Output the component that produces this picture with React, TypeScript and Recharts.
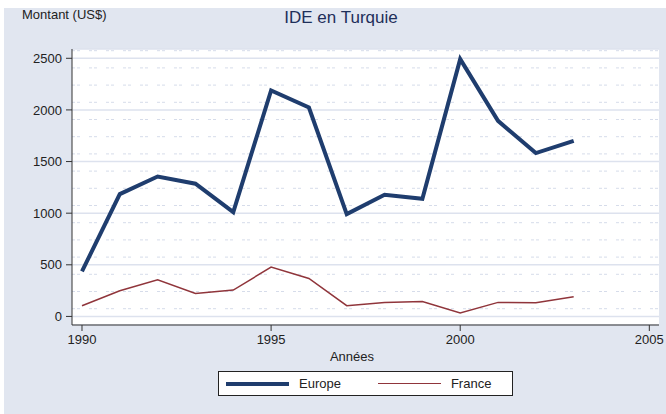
import { LineChart, Line, XAxis, YAxis, CartesianGrid } from 'recharts'

const years = [1990, 1991, 1992, 1993, 1994, 1995, 1996, 1997, 1998, 1999, 2000, 2001, 2002, 2003]
const europe = [436, 1185, 1355, 1285, 1010, 2188, 2023, 991, 1178, 1139, 2492, 1894, 1582, 1701]
const france = [104, 249, 355, 223, 255, 478, 368, 104, 136, 145, 33, 136, 133, 191]

const xTicks = [1990, 1995, 2000, 2005]
const yTicks = [0, 500, 1000, 1500, 2000, 2500]

const series = [
  { key: 'europe', name: 'Europe', color: '#1f3d6e', width: 4 },
  { key: 'france', name: 'France', color: '#90353b', width: 1.5 },
]

const data = years.map((y, i) => ({ year: y, europe: europe[i], france: france[i] }))

const FONT = '"Liberation Sans", Arial, Helvetica, sans-serif'
const BG = '#e1e6f0'

// faint dotted texture lines in the plot region, one every ~17px
const texture = ({ offset }: any) => {
  const out: number[] = []
  for (let y = offset.top + 1.7; y < offset.top + offset.height; y += 17.2) out.push(y)
  return out
}

export default function App() {
  return (
    <div
      style={{
        position: 'absolute',
        left: 4,
        top: 8,
        width: 662,
        height: 406,
        background: BG,
        fontFamily: FONT,
        color: '#222',
      }}
    >
      <div style={{ position: 'absolute', left: 18, top: -1, fontSize: 13 }}>Montant (US$)</div>
      <div
        style={{
          position: 'absolute',
          left: 137,
          width: 400,
          top: 0,
          textAlign: 'center',
          fontSize: 17,
          color: '#1e2f5a',
        }}
      >
        IDE en Turquie
      </div>

      <LineChart
        width={662}
        height={406}
        data={data}
        margin={{ top: 41, right: 7, left: 8, bottom: 59 }}
        style={{ position: 'absolute', left: 0, top: 0 }}
      >
        <CartesianGrid vertical={false} fill="#ffffff" stroke="none" horizontal={false} />
        <CartesianGrid
          vertical={false}
          horizontalCoordinatesGenerator={texture}
          stroke="#d6dcea"
          strokeDasharray="3 2 3 9"
        />
        <CartesianGrid vertical={false} stroke="#dde2ee" strokeWidth={1.5} />
        <XAxis
          dataKey="year"
          type="number"
          domain={[1989.736, 2005.256]}
          ticks={xTicks}
          allowDataOverflow
          height={30}
          stroke="#333"
          tickSize={6}
          tickMargin={4}
          tick={{ fill: '#222', fontSize: 13, fontFamily: FONT }}
        />
        <YAxis
          type="number"
          domain={[-83, 2590]}
          ticks={yTicks}
          allowDataOverflow
          width={60}
          stroke="#333"
          tickSize={6}
          tickMargin={4}
          tick={{ fill: '#222', fontSize: 13, fontFamily: FONT }}
        />
        {series.map((s) => (
          <Line
            key={s.key}
            dataKey={s.key}
            name={s.name}
            type="linear"
            stroke={s.color}
            strokeWidth={s.width}
            dot={false}
            activeDot={false}
            isAnimationActive={false}
          />
        ))}
      </LineChart>

      <div style={{ position: 'absolute', left: 0, width: 696, top: 341, textAlign: 'center', fontSize: 13 }}>
        Années
      </div>

      <div
        style={{
          position: 'absolute',
          left: 214,
          top: 363,
          width: 293,
          height: 23,
          background: '#fff',
          border: '1px solid #222',
          display: 'flex',
          alignItems: 'center',
          fontSize: 13,
        }}
      >
        {series.map((s, i) => (
          <div key={s.key} style={{ display: 'flex', alignItems: 'center', marginLeft: i === 0 ? 7 : 37 }}>
            <div style={{ width: 63, height: s.width, background: s.color }} />
            <span style={{ marginLeft: 10 }}>{s.name}</span>
          </div>
        ))}
      </div>
    </div>
  )
}
